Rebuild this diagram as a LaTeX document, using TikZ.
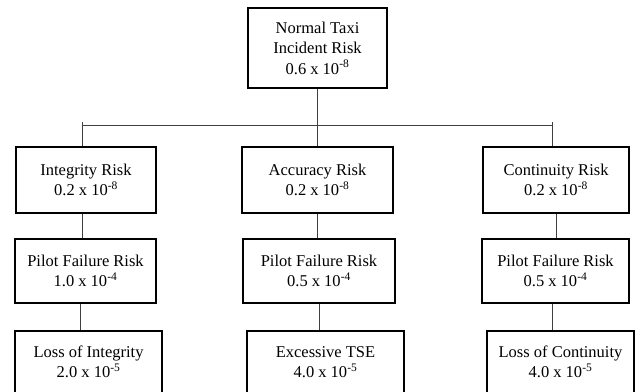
\documentclass[tikz,border=0pt]{standalone}
\usepackage{fontspec}
\setmainfont{Liberation Serif}
\usetikzlibrary{positioning}

\begin{document}
\begin{tikzpicture}[x=1pt, y=-1pt,
    riskbox/.style={draw=black, line width=1.6pt, fill=white, inner sep=0pt, align=center, font=\fontsize{16.5}{20.5}\selectfont},
    link/.style={draw=black!75, line width=0.8pt}]
    \clip (0,0) rectangle (639,391);

    % Top node
    \node[riskbox, minimum width=139pt, minimum height=80pt] (total) at (317.5,48) {Normal Taxi\\Incident Risk\\0.6 x 10\textsuperscript{-8}};

    % Second row
    \node[riskbox, minimum width=140pt, minimum height=66pt] (integ) at (86,180) {Integrity Risk\\0.2 x 10\textsuperscript{-8}};
    \node[riskbox, minimum width=151pt, minimum height=66pt] (accur) at (317.5,180) {Accuracy Risk\\0.2 x 10\textsuperscript{-8}};
    \node[riskbox, minimum width=146pt, minimum height=66pt] (contin) at (556,180) {Continuity Risk\\0.2 x 10\textsuperscript{-8}};

    % Third row
    \node[riskbox, minimum width=141pt, minimum height=64pt] (pilotA) at (85.5,271) {Pilot Failure Risk\\1.0 x 10\textsuperscript{-4}};
    \node[riskbox, minimum width=152pt, minimum height=64pt] (pilotB) at (319,271) {Pilot Failure Risk\\0.5 x 10\textsuperscript{-4}};
    \node[riskbox, minimum width=147pt, minimum height=64pt] (pilotC) at (555.5,271) {Pilot Failure Risk\\0.5 x 10\textsuperscript{-4}};

    % Bottom row
    \node[riskbox, minimum width=147pt, minimum height=62pt] (lossA) at (88.5,362) {Loss of Integrity\\2.0 x 10\textsuperscript{-5}};
    \node[riskbox, minimum width=157pt, minimum height=62pt] (tse) at (325.5,362) {Excessive TSE\\4.0 x 10\textsuperscript{-5}};
    \node[riskbox, minimum width=147pt, minimum height=62pt] (lossC) at (560.5,362) {Loss of Continuity\\4.0 x 10\textsuperscript{-5}};

    % Bus line
    \coordinate (busL) at (82,125);
    \coordinate (busR) at (552,125);
    \coordinate (tickL) at (82,122);
    \coordinate (tickR) at (552,122);
    \draw[link] (total) -- (total |- busL);
    \draw[link] (busL) -- (busR);

    % Connections to second row
    \draw[link] (tickL) -- (tickL |- integ.north);
    \draw[link] (total |- busL) -- (accur);
    \draw[link] (tickR) -- (tickR |- contin.north);

    % Connections to third row
    \draw[link] (tickL |- integ.south) -- (tickL |- pilotA.north);
    \draw[link] (accur) -- (accur.south |- pilotB.north);
    \draw[link] (contin) -- (contin |- pilotC.north);

    % Connections to bottom row
    \draw[link] ([xshift=-5.5pt]pilotA.south) -- ([xshift=-5.5pt]pilotA.south |- lossA.north);
    \draw[link] (pilotB) -- (pilotB |- tse.north);
    \draw[link] (tickR |- pilotC.south) -- (tickR |- lossC.north);
  \end{tikzpicture}
\end{document}
